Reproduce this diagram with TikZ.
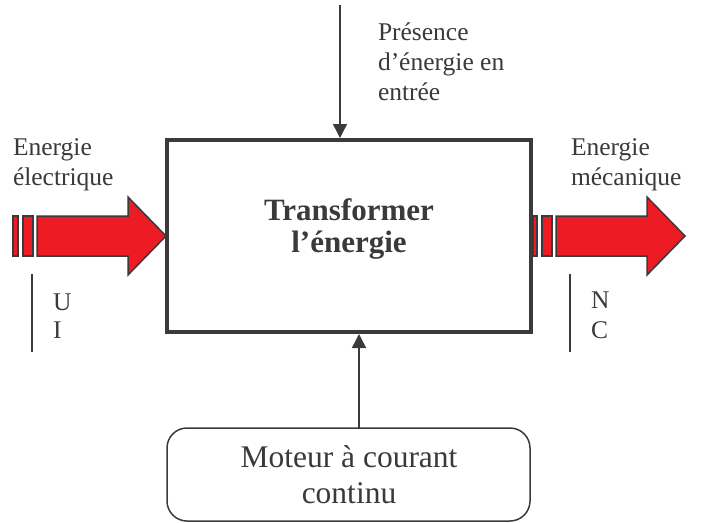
\documentclass[tikz,border=0pt]{standalone}
\usepackage{fontspec}
\setmainfont{Liberation Serif}
\usetikzlibrary{arrows.meta}
\definecolor{ink}{HTML}{3A3A3C}
\definecolor{flowred}{HTML}{ED1C24}
\begin{document}
\begin{tikzpicture}[x=1pt,y=-1pt,
  every node/.style={text=ink, inner sep=0pt, outer sep=0pt},
  lbl/.style={anchor=base west, font=\fontsize{25.5}{30}\selectfont},
  wire/.style={draw=ink, line width=1.5pt},
  feed/.style={wire, -{Triangle[length=14pt,width=14pt]}},
  flow/.style={draw=ink, line width=1.5pt, fill=flowred, line join=miter}]
\useasboundingbox (0,0) rectangle (704,522);

% function block
\node[draw=ink, line width=4pt, minimum width=364pt, minimum height=192pt, outer sep=2pt] (fn) at (349,236) {};
\node[anchor=base, font=\fontsize{31}{32}\selectfont\bfseries] (fntext) at (349,220)
  {\begin{tabular}[t]{@{}c@{}}Transformer\\l’énergie\end{tabular}};

% support (processor)
\node[draw=ink, line width=1.5pt, rounded corners=20pt, minimum width=363pt, minimum height=93pt] (motor) at (348.5,474.5) {};
\node[anchor=base, font=\fontsize{31.5}{36}\selectfont] (motortext) at (349,467)
  {\begin{tabular}[t]{@{}c@{}}Moteur à courant\\continu\end{tabular}};

% control input from above
\coordinate (ctl) at (340,5);
\draw[feed] (ctl) -- (fn.north -| ctl);
\node[lbl] (ctltext) at (378,40)
  {\begin{tabular}[t]{@{}l@{}}Présence\\d’énergie en\\entrée\end{tabular}};

% support link from below
\coordinate (sup) at (359,0);
\draw[feed] (motor.north -| sup) -- (fn.south -| sup);

% input flow (electrical energy)
\draw[flow] (13,216) rectangle (18,256);
\draw[flow] (23,216) rectangle (33,256);
\draw[flow] (37,216) -- (128,216) -- (128,197) -- (166,236) -- (128,275) -- (128,256) -- (37,256) -- cycle;
\node[lbl] (intext) at (13,155)
  {\begin{tabular}[t]{@{}l@{}}Energie\\électrique\end{tabular}};
\draw[wire] (32,274) -- (32,352);
\node[anchor=base west, font=\fontsize{25.5}{28}\selectfont] (invars) at (53,310)
  {\begin{tabular}[t]{@{}l@{}}U\\I\end{tabular}};

% output flow (mechanical energy)
\draw[flow] (533,216) rectangle (537,256);
\draw[flow] (542,216) rectangle (552,256);
\draw[flow] (556,216) -- (647,216) -- (647,197) -- (685,236) -- (647,275) -- (647,256) -- (556,256) -- cycle;
\node[lbl] (outtext) at (571,155)
  {\begin{tabular}[t]{@{}l@{}}Energie\\mécanique\end{tabular}};
\draw[wire] (570,274) -- (570,352);
\node[anchor=base west, font=\fontsize{25.5}{30}\selectfont] (outvars) at (591,308)
  {\begin{tabular}[t]{@{}l@{}}N\\C\end{tabular}};
\end{tikzpicture}
\end{document}
